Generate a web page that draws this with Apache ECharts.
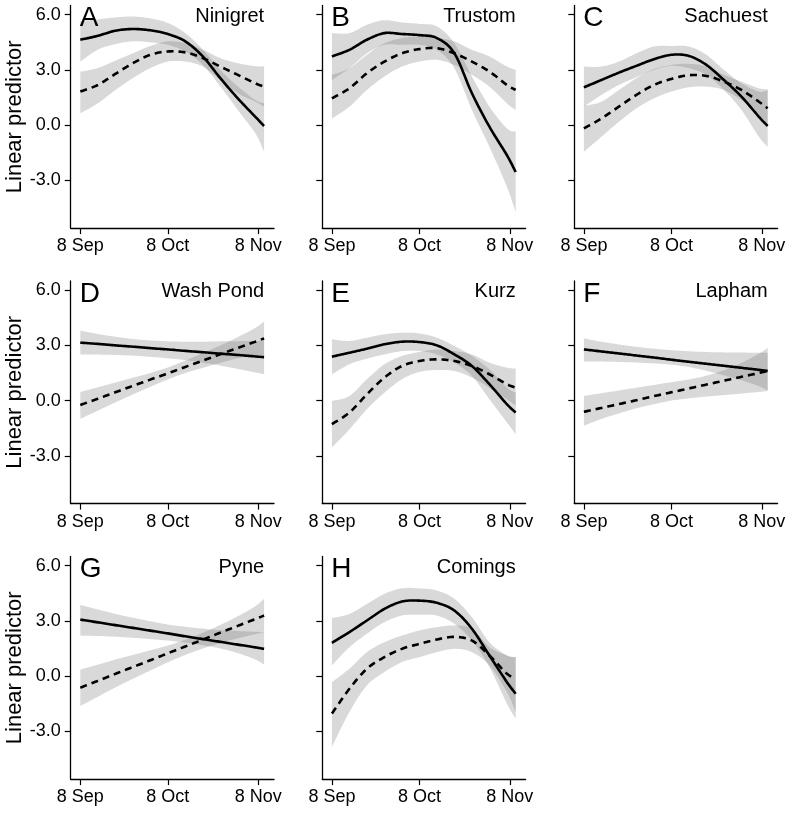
<!DOCTYPE html>
<html>
<head>
<meta charset="utf-8">
<script src="https://cdn.jsdelivr.net/npm/echarts@6/dist/echarts.min.js"></script>
<style>
  html, body { margin: 0; padding: 0; background: #fff; }
  #chart { width: 792px; height: 813px; }
</style>
</head>
<body>
<div id="chart"></div>
<script>
// days after 8 Sep
const days = [0, 6, 12, 18, 24, 30, 36, 42, 48, 54, 60, 63];
const tickDays = [0, 30, 61];
const tickNames = ['8 Sep', '8 Oct', '8 Nov'];
const yTicks = [-3, 0, 3, 6];

const letters = ['A', 'B', 'C', 'D', 'E', 'F', 'G', 'H'];
const sites = ['Ninigret', 'Trustom', 'Sachuest', 'Wash Pond', 'Kurz', 'Lapham', 'Pyne', 'Comings'];

// solid curve + band
const solidFit = [
  [4.64, 4.85, 5.13, 5.22, 5.15, 4.95, 4.55, 3.73, 2.55, 1.45, 0.45, -0.05],
  [3.73, 4.09, 4.64, 5.0, 4.95, 4.89, 4.73, 3.9, 1.73, -0.09, -1.64, -2.55],
  [2.05, 2.45, 2.85, 3.22, 3.58, 3.82, 3.76, 3.27, 2.45, 1.55, 0.45, -0.05],
  [3.15, 3.08, 3.0, 2.93, 2.85, 2.78, 2.7, 2.63, 2.55, 2.48, 2.4, 2.36],
  [2.39, 2.6, 2.82, 3.06, 3.2, 3.18, 3.0, 2.51, 1.88, 0.89, -0.2, -0.65],
  [2.78, 2.67, 2.56, 2.45, 2.34, 2.22, 2.11, 2.0, 1.89, 1.78, 1.67, 1.61],
  [3.07, 2.92, 2.77, 2.62, 2.47, 2.32, 2.16, 2.01, 1.86, 1.71, 1.56, 1.48],
  [1.81, 2.39, 3.02, 3.65, 4.05, 4.1, 3.98, 3.56, 2.57, 1.12, -0.33, -0.96]
];
const solidHi = [
  [5.64, 5.75, 5.85, 5.9, 5.8, 5.55, 5.0, 4.1, 3.0, 2.1, 1.36, 1.2],
  [5.0, 5.0, 5.45, 5.7, 5.58, 5.5, 5.36, 4.45, 2.64, 1.0, -0.18, -0.36],
  [3.18, 3.18, 3.45, 3.9, 4.27, 4.3, 4.27, 3.82, 3.0, 2.27, 1.82, 1.9],
  [3.8, 3.62, 3.47, 3.35, 3.27, 3.22, 3.2, 3.2, 3.22, 3.23, 3.24, 3.25],
  [3.33, 3.24, 3.42, 3.6, 3.69, 3.65, 3.42, 2.97, 2.42, 1.7, 0.7, 0.43],
  [3.38, 3.2, 3.05, 2.92, 2.82, 2.74, 2.68, 2.64, 2.62, 2.61, 2.6, 2.6],
  [3.87, 3.62, 3.38, 3.17, 2.98, 2.8, 2.68, 2.58, 2.5, 2.45, 2.41, 2.39],
  [3.15, 3.38, 3.92, 4.47, 4.77, 4.77, 4.65, 4.2, 3.2, 1.84, 1.12, 1.03]
];
const solidLo = [
  [3.45, 4.1, 4.4, 4.55, 4.5, 4.36, 4.0, 3.27, 2.1, 0.82, -0.45, -1.45],
  [2.45, 3.09, 3.9, 4.36, 4.36, 4.36, 4.09, 3.09, 0.82, -1.18, -3.36, -4.73],
  [1.0, 1.64, 2.18, 2.6, 3.0, 3.22, 3.09, 2.73, 1.91, 0.82, -0.64, -1.18],
  [2.5, 2.5, 2.48, 2.44, 2.38, 2.3, 2.2, 2.06, 1.9, 1.72, 1.53, 1.43],
  [1.43, 1.97, 2.28, 2.51, 2.69, 2.69, 2.51, 2.06, 1.34, 0.07, -1.19, -1.83],
  [2.12, 2.12, 2.1, 2.07, 2.02, 1.95, 1.82, 1.62, 1.37, 1.1, 0.78, 0.55],
  [2.2, 2.18, 2.14, 2.08, 2.01, 1.93, 1.82, 1.68, 1.5, 1.25, 0.9, 0.63],
  [0.58, 1.57, 2.3, 2.93, 3.29, 3.33, 3.29, 2.84, 1.93, 0.49, -1.5, -2.31]
];

// dashed curve + band
const dashFit = [
  [1.82, 2.18, 2.78, 3.36, 3.82, 4.0, 3.95, 3.64, 3.18, 2.73, 2.27, 2.09],
  [1.45, 2.0, 2.82, 3.45, 3.9, 4.13, 4.18, 3.9, 3.45, 2.91, 2.18, 1.91],
  [-0.18, 0.36, 1.0, 1.64, 2.18, 2.51, 2.71, 2.67, 2.36, 1.91, 1.27, 0.91],
  [-0.24, 0.1, 0.45, 0.8, 1.14, 1.48, 1.83, 2.17, 2.52, 2.86, 3.2, 3.38],
  [-1.28, -0.65, 0.34, 1.25, 1.88, 2.15, 2.24, 2.15, 1.88, 1.43, 0.89, 0.7],
  [-0.61, -0.4, -0.19, 0.02, 0.24, 0.45, 0.66, 0.87, 1.08, 1.29, 1.5, 1.61],
  [-0.63, -0.26, 0.12, 0.49, 0.86, 1.24, 1.61, 1.98, 2.36, 2.73, 3.1, 3.29],
  [-2.04, -0.69, 0.4, 1.03, 1.48, 1.75, 1.99, 2.13, 1.93, 1.12, 0.13, -0.11]
];
const dashHi = [
  [2.9, 3.1, 3.5, 3.9, 4.3, 4.55, 4.45, 4.1, 3.64, 3.36, 3.2, 3.2],
  [2.73, 3.09, 3.82, 4.45, 4.73, 4.82, 4.73, 4.55, 4.09, 3.73, 3.18, 3.0],
  [1.04, 1.27, 1.91, 2.55, 3.04, 3.27, 3.33, 3.18, 2.73, 2.36, 2.0, 1.95],
  [0.47, 0.72, 0.98, 1.24, 1.5, 1.8, 2.17, 2.58, 3.0, 3.45, 3.95, 4.3],
  [-0.02, 0.25, 1.16, 1.97, 2.42, 2.64, 2.78, 2.69, 2.51, 2.06, 1.79, 1.74],
  [0.25, 0.4, 0.55, 0.7, 0.85, 1.0, 1.15, 1.35, 1.65, 2.05, 2.55, 2.87],
  [0.36, 0.62, 0.9, 1.15, 1.4, 1.66, 1.98, 2.35, 2.78, 3.25, 3.8, 4.2],
  [-0.33, 0.4, 1.3, 1.84, 2.2, 2.48, 2.66, 2.75, 2.57, 1.57, 1.12, 1.03]
];
const dashLo = [
  [0.64, 1.18, 1.9, 2.55, 3.1, 3.45, 3.45, 3.18, 2.45, 1.73, 1.27, 1.0],
  [0.36, 1.0, 1.91, 2.64, 3.18, 3.45, 3.55, 3.27, 2.73, 2.09, 1.18, 0.82],
  [-1.45, -0.64, 0.18, 0.91, 1.45, 1.82, 2.05, 2.09, 1.91, 1.36, 0.55, 0.09],
  [-1.0, -0.55, -0.1, 0.33, 0.75, 1.15, 1.5, 1.78, 2.05, 2.3, 2.47, 2.45],
  [-2.55, -1.56, -0.47, 0.43, 1.16, 1.56, 1.66, 1.61, 1.25, 0.7, 0.07, -0.29],
  [-1.37, -1.0, -0.7, -0.42, -0.2, 0.0, 0.12, 0.22, 0.3, 0.38, 0.47, 0.52],
  [-1.63, -1.12, -0.62, -0.15, 0.3, 0.75, 1.15, 1.5, 1.8, 2.05, 2.28, 2.39],
  [-3.85, -1.95, -0.51, 0.22, 0.76, 1.03, 1.3, 1.48, 1.3, 0.58, -0.87, -1.95]
];

const FONT = 'Liberation Sans, Arial, sans-serif';
const colLeft = [70.7, 322.3, 574.3];
const rowTop = [5.5, 281, 556.5];
const gridW = 203.3;
const gridH = 222.6;
const bandColor = 'rgba(120,120,120,0.28)';

// Catmull-Rom through pixel points, sampled densely
function smoothPts(p) {
    let out = [];
    for (let k = 0; k < p.length - 1; k++) {
        let p0 = p[Math.max(k - 1, 0)], p1 = p[k], p2 = p[k + 1], p3 = p[Math.min(k + 2, p.length - 1)];
        let c1 = [p1[0] + (p2[0] - p0[0]) / 6, p1[1] + (p2[1] - p0[1]) / 6];
        let c2 = [p2[0] - (p3[0] - p1[0]) / 6, p2[1] - (p3[1] - p1[1]) / 6];
        for (let s = 0; s < 12; s++) {
            let t = s / 12, u = 1 - t;
            out.push([
                u * u * u * p1[0] + 3 * u * u * t * c1[0] + 3 * u * t * t * c2[0] + t * t * t * p2[0],
                u * u * u * p1[1] + 3 * u * u * t * c1[1] + 3 * u * t * t * c2[1] + t * t * t * p2[1]
            ]);
        }
    }
    out.push(p[p.length - 1]);
    return out;
}

// grey confidence band between lo and hi
function bandSeries(i, lo, hi) {
    return {
        type: 'custom', xAxisIndex: i, yAxisIndex: i, silent: true, clip: true, z: 1,
        data: [[days[0], lo[0]]],
        renderItem: function (params, api) {
            let up = smoothPts(days.map((d, j) => api.coord([d, hi[j]])));
            let dn = smoothPts(days.map((d, j) => api.coord([d, lo[j]])));
            return {
                type: 'polygon',
                shape: { points: up.concat(dn.reverse()) },
                style: { fill: bandColor }
            };
        }
    };
}

// fitted curve
function curveSeries(i, vals, dashed) {
    return {
        type: 'custom', xAxisIndex: i, yAxisIndex: i, silent: true, clip: true, z: 5,
        data: [[days[0], vals[0]]],
        renderItem: function (params, api) {
            return {
                type: 'polyline',
                shape: { points: smoothPts(days.map((d, j) => api.coord([d, vals[j]]))) },
                style: {
                    stroke: '#000', lineWidth: 2.6, fill: null,
                    lineDash: dashed ? [7, 5] : null
                }
            };
        }
    };
}

let grids = [], xAxes = [], yAxes = [], series = [], titles = [];

for (let i = 0; i < 8; i++) {
    let col = i % 3, row = Math.floor(i / 3);
    let left = colLeft[col], top = rowTop[row];
    grids.push({ left: left, top: top, width: gridW, height: gridH });

    xAxes.push({
        gridIndex: i, type: 'value', min: -3.29, max: 66.4,
        splitLine: { show: false },
        axisLine: { onZero: false, lineStyle: { color: '#000', width: 1.3 } },
        axisTick: { length: 6, customValues: tickDays, lineStyle: { color: '#000', width: 1.2 } },
        axisLabel: {
            customValues: tickDays, margin: 9, color: '#000', fontSize: 18, fontFamily: FONT,
            formatter: v => tickNames[tickDays.indexOf(v)]
        }
    });
    yAxes.push({
        gridIndex: i, type: 'value', min: -5.6, max: 6.5,
        splitLine: { show: false },
        name: col === 0 ? 'Linear predictor' : '',
        nameLocation: 'middle', nameGap: 43, nameRotate: 90,
        nameTextStyle: { color: '#000', fontSize: 22, fontFamily: FONT },
        axisLine: { onZero: false, lineStyle: { color: '#000', width: 1.3 } },
        axisTick: { length: 6, customValues: yTicks, lineStyle: { color: '#000', width: 1.2 } },
        axisLabel: {
            show: col === 0, customValues: yTicks, margin: 10, color: '#000', fontSize: 18, fontFamily: FONT,
            formatter: v => v.toFixed(1)
        }
    });

    series.push(bandSeries(i, solidLo[i], solidHi[i]));
    series.push(bandSeries(i, dashLo[i], dashHi[i]));
    series.push(curveSeries(i, dashFit[i], true));
    series.push(curveSeries(i, solidFit[i], false));

    // panel letter and site name
    titles.push({
        text: letters[i], left: left + 9, top: top - 1, padding: 0,
        textStyle: { color: '#000', fontSize: 28, fontWeight: 'normal', fontFamily: FONT }
    });
    titles.push({
        text: sites[i], right: 792 - (left + 9.6 + 63 * 2.918), top: top + 0.5, padding: 0,
        textStyle: { color: '#000', fontSize: 20, fontWeight: 'normal', fontFamily: FONT }
    });
}

let chart = echarts.init(document.getElementById('chart'));
chart.setOption({
    animation: false,
    backgroundColor: '#fff',
    title: titles,
    grid: grids,
    xAxis: xAxes,
    yAxis: yAxes,
    series: series
});
</script>
</body>
</html>
